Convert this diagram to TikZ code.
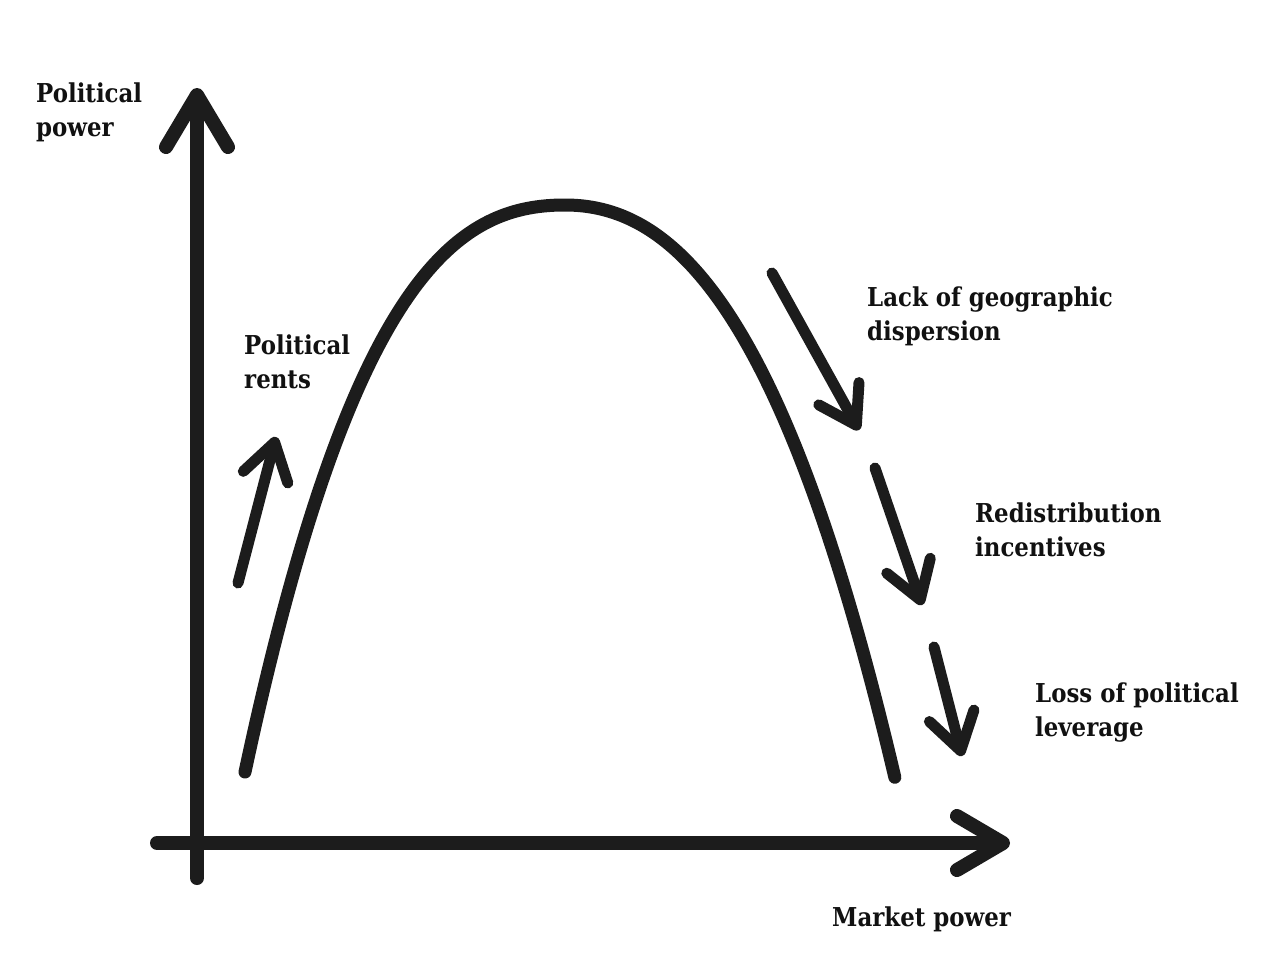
\documentclass[tikz,border=0pt]{standalone}
\usepackage{fontspec}
\setmainfont{DejaVu Serif}[FakeStretch=0.88]
\usetikzlibrary{arrows.meta}
\definecolor{ink}{HTML}{1C1C1C}
\definecolor{txt}{HTML}{111111}
\begin{document}
\begin{tikzpicture}[x=1pt,y=-1pt,
  axis/.style={line width=14pt,draw=ink,line cap=round,line join=round},
  curve/.style={line width=13pt,draw=ink,line cap=round,line join=round},
  trend/.style={line width=11pt,draw=ink,line cap=round,line join=round,
     -{Straight Barb[round,length=36pt,width=46pt]}},
  lbl/.style={font=\fontsize{26}{34}\selectfont\bfseries,text=txt,align=left,anchor=base west,inner sep=0pt}]
\fill[white] (0,0) rectangle (1270,970);
\useasboundingbox (0,0) rectangle (1270,970);
% axes
\coordinate (o1) at (197,878);
\coordinate (ytip) at (197,88);
\coordinate (o2) at (157,843);
\coordinate (xtip) at (1010,843);
\draw[axis,-{Straight Barb[round,length=52pt,width=62pt]}] (o1) -- (ytip);
\draw[axis,-{Straight Barb[round,length=46pt,width=54pt]}] (o2) -- (xtip);
% curve
\draw[curve] plot[domain=1:0,samples=90] ({565-320*\x},{205+567*(0.36*\x*\x+0.64*\x*\x*\x)})
  -- plot[domain=0:1,samples=90] ({565+330*\x},{205+573*(0.55*\x*\x+0.45*\x*\x*\x)});
% political rents arrow
\coordinate (r1) at (238,583);
\coordinate (r2) at (276,437);
\draw[trend] (r1) -- (r2);
% right arrows
\coordinate (a1) at (772,273);
\coordinate (a2) at (859,430);
\coordinate (b1) at (875,468);
\coordinate (b2) at (922,605);
\coordinate (c1) at (934,647);
\coordinate (c2) at (962,756);
\draw[trend] (a1) -- (a2);
\draw[trend] (b1) -- (b2);
\draw[trend] (c1) -- (c2);
% labels
\node[lbl] (ypow) at (36,136) {Political\\power};
\node[lbl] (rents) at (244,388) {Political\\rents};
\node[lbl] (lack) at (867,340) {Lack of geographic\\dispersion};
\node[lbl] (redis) at (975,556) {Redistribution\\incentives};
\node[lbl] (loss) at (1035,736) {Loss of political\\leverage};
\node[lbl] (mkt) at (832,926) {Market power};
\end{tikzpicture}
\end{document}
